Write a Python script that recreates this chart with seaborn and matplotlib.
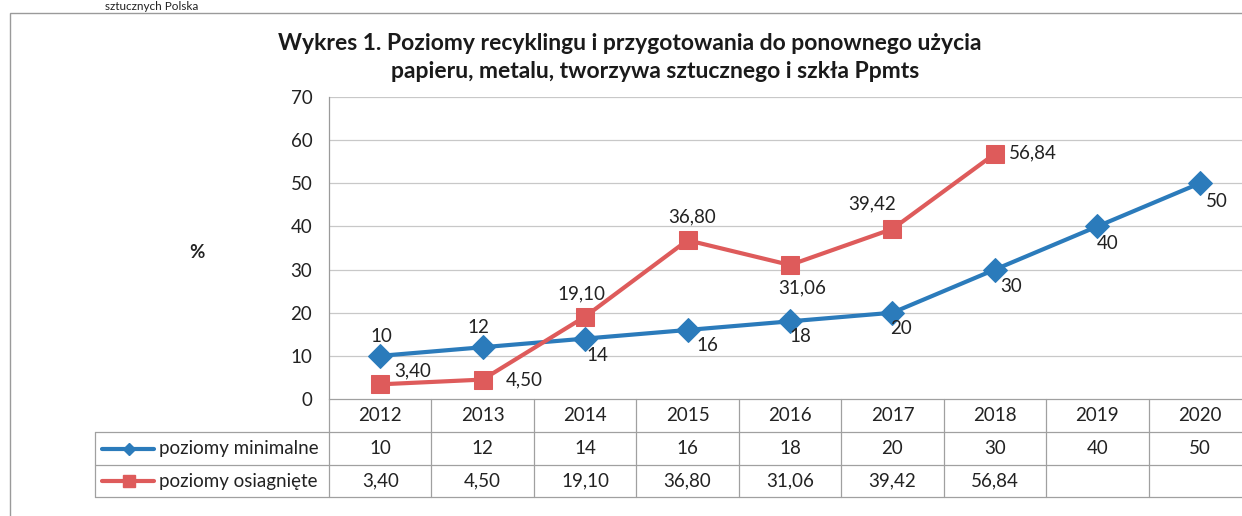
import numpy as np
import pandas as pd
import matplotlib
matplotlib.use("Agg")
import matplotlib.pyplot as plt
import matplotlib.transforms as mtransforms
from matplotlib.patches import Rectangle
from matplotlib.lines import Line2D
import seaborn as sns

years = ["2012", "2013", "2014", "2015", "2016", "2017", "2018", "2019", "2020"]
min_levels = [10, 12, 14, 16, 18, 20, 30, 40, 50]
achieved = [3.40, 4.50, 19.10, 36.80, 31.06, 39.42, 56.84]
min_labels = ["10", "12", "14", "16", "18", "20", "30", "40", "50"]
ach_labels = ["3,40", "4,50", "19,10", "36,80", "31,06", "39,42", "56,84"]
series_names = ["poziomy minimalne", "poziomy osiagnięte"]
title_lines = ["Wykres 1. Poziomy recyklingu i przygotowania do ponownego użycia",
               "papieru, metalu, tworzywa sztucznego i szkła Ppmts"]
yticks = [0, 10, 20, 30, 40, 50, 60, 70]

sns.set_theme(style="white")
plt.rcParams['font.family'] = ['Lato', 'DejaVu Sans']

BLUE = "#2b7bbb"
RED = "#de5b5b"
TXT = "#222222"
FS = 13.5
W, H = 1242, 516
fig = plt.figure(figsize=(W / 100, H / 100), dpi=100)

def fx(px):
    return px / W

def fy(py):
    return 1 - py / H

# outer frame
fig.patches.append(Rectangle((fx(10), fy(520)), fx(1260 - 10), fy(13) - fy(520),
                             transform=fig.transFigure, fill=False, edgecolor="#9a9a9a", lw=1.0))
# text at the very top (continuation of the page above)
fig.text(fx(105), fy(0.5), "sztucznych Polska", fontsize=8.5, ha="left", va="top", color=TXT)

left, right, top, bottom = 329, 1251, 97, 399
ax = fig.add_axes([fx(left), fy(bottom), fx(right - left), fy(top) - fy(bottom)])

xs = np.arange(len(years))
df = pd.DataFrame({
    "x": list(xs) + list(xs[:len(achieved)]),
    "v": min_levels + achieved,
    "s": [series_names[0]] * len(min_levels) + [series_names[1]] * len(achieved),
})
sns.lineplot(data=df[df.s == series_names[0]], x="x", y="v", ax=ax, color=BLUE, lw=3.0,
             marker="D", markersize=12.5, markeredgecolor=BLUE, legend=False, zorder=3)
sns.lineplot(data=df[df.s == series_names[1]], x="x", y="v", ax=ax, color=RED, lw=3.0,
             marker="s", markersize=13.5, markeredgecolor=RED, legend=False, zorder=4)

ax.set_xlim(-0.5, len(years) - 0.5)
ax.set_ylim(0, 70)
ax.set_yticks(yticks)
ax.set_yticklabels([str(t) for t in yticks], fontsize=FS, color=TXT)
ax.tick_params(axis="y", length=0, pad=12)
ax.set_xticks([])
ax.set_xlabel("")
ax.set_ylabel("")
for yv in yticks[1:]:
    ax.axhline(yv, color="#c8c8c8", lw=0.9, zorder=1)
for s in ["top", "right", "bottom"]:
    ax.spines[s].set_visible(False)
ax.spines["left"].set_color("#9a9a9a")
ax.spines["left"].set_linewidth(0.9)

# data labels (offsets in points)
min_off = [(1, 13.7), (-3, 14.4), (8.6, -12.2), (14.4, -11.5), (7.2, -10.8),
           (6.5, -11.2), (11.5, -12.2), (7.2, -12.2), (12.2, -13)]
for i, (v, lab) in enumerate(zip(min_levels, min_labels)):
    ax.annotate(lab, (xs[i], v), xytext=min_off[i], textcoords="offset points",
                ha="center", va="center", fontsize=FS, color=TXT)
ach_off = [(23, 10), (30, 0), (-3, 16.5), (3.6, 16.5), (8.6, -16.5), (-14.4, 18.2), (10, 0.7)]
ach_ha = ["center"] * 6 + ["left"]
for i, (v, lab) in enumerate(zip(achieved, ach_labels)):
    ax.annotate(lab, (xs[i], v), xytext=ach_off[i], textcoords="offset points",
                ha=ach_ha[i], va="center", fontsize=FS, color=TXT)

# percent label
fig.text(fx(197), fy(252), "%", fontsize=FS, ha="center", va="center", color=TXT, weight="bold")

# title (two centred lines)
fig.text(fx(630), fy(44), title_lines[0], fontsize=16.5, weight="bold", ha="center", va="center",
         color="#1a1a1a")
fig.text(fx(655), fy(71), title_lines[1], fontsize=16.5, weight="bold", ha="center", va="center",
         color="#1a1a1a")

# data table
rows_y = [399, 432, 465, 497]
blend = mtransforms.blended_transform_factory(ax.transData, fig.transFigure)
gc = "#a0a0a0"
fig.add_artist(Line2D([fx(left), fx(right)], [fy(rows_y[0])] * 2, transform=fig.transFigure, color=gc, lw=0.9))
for yy in rows_y[1:]:
    fig.add_artist(Line2D([fx(95), fx(right)], [fy(yy), fy(yy)], transform=fig.transFigure, color=gc, lw=0.9))
fig.add_artist(Line2D([fx(95), fx(95)], [fy(rows_y[1]), fy(rows_y[3])], transform=fig.transFigure, color=gc, lw=0.9))
for k in range(len(years) + 1):
    fig.add_artist(Line2D([k - 0.5, k - 0.5], [fy(rows_y[0]), fy(rows_y[3])], transform=blend, color=gc, lw=0.9))

def row_center(i):
    return fy((rows_y[i] + rows_y[i + 1]) / 2)

for i, y in enumerate(years):
    fig.text(i, row_center(0), y, transform=blend, ha="center", va="center", fontsize=FS, color=TXT)
for i, lab in enumerate(min_labels):
    fig.text(i, row_center(1), lab, transform=blend, ha="center", va="center", fontsize=FS, color=TXT)
for i, lab in enumerate(ach_labels):
    fig.text(i, row_center(2), lab, transform=blend, ha="center", va="center", fontsize=FS, color=TXT)

# legend keys in table
for r, (col, mk, ms) in zip([1, 2], [(BLUE, "D", 6.5), (RED, "s", 8)]):
    yc = row_center(r)
    fig.add_artist(Line2D([fx(102), fx(154)], [yc, yc], transform=fig.transFigure, color=col, lw=3.0))
    fig.add_artist(Line2D([fx(129)], [yc], transform=fig.transFigure, color=col, marker=mk,
                          markersize=ms, markeredgecolor=col))
    fig.text(fx(159), yc, series_names[r - 1], ha="left", va="center", fontsize=FS, color=TXT)

fig.savefig("out.png", dpi=100)
